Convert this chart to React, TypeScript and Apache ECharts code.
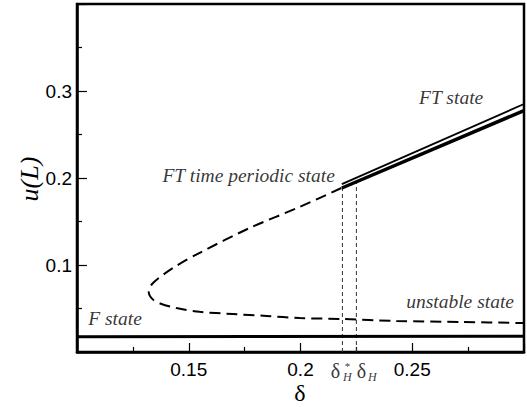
import React, { useEffect, useRef } from "react";
import * as echarts from "echarts";

// F state (stable, solid)
const fStateDelta = [0.1, 0.3];
const fStateU = [0.0175, 0.018];

// Time-periodic / unstable branch (dashed), traced through the fold
const foldDelta = [0.2183, 0.1996, 0.1772, 0.1549, 0.1429, 0.1339, 0.1321, 0.1339, 0.1375, 0.1445, 0.1549, 0.1696, 0.1848, 0.1996, 0.2183, 0.2429, 0.2723, 0.3];
const foldU = [0.1885, 0.1667, 0.1425, 0.114, 0.0965, 0.079, 0.069, 0.0605, 0.0555, 0.0505, 0.0462, 0.0437, 0.0414, 0.039, 0.038, 0.0356, 0.0345, 0.0333];

// FT state (double line)
const ftUpperDelta = [0.2185, 0.3];
const ftUpperU = [0.193, 0.285];
const ftLowerDelta = [0.2185, 0.3];
const ftLowerU = [0.1885, 0.2775];

// Critical points
const deltaHStar = 0.21875;
const deltaH = 0.225;
const deltaHStarTop = 0.188;
const deltaHTop = 0.1955;

// Axis ticks
const xTickLabels = ["0.15", "0.2", "0.25"];
const yTickLabels = ["0.1", "0.2", "0.3"];

// Annotations (anchor in data coords)
const annotations = [
  { text: "FT state", at: [0.2674, 0.292] },
  { text: "FT time periodic state", at: [0.1768, 0.2023] },
  { text: "unstable state", at: [0.2714, 0.0586] },
  { text: "F state", at: [0.117, 0.038] },
];

const zip = (a: number[], b: number[]) => a.map((v, i) => [v, b[i]]);

export default function App() {
  const ref = useRef<HTMLDivElement>(null);
  useEffect(() => {
    if (!ref.current) return;
    const chart = echarts.init(ref.current, null, { renderer: "svg" });
    const serif = "'Liberation Serif', 'DejaVu Serif', serif";
    const sans = "'Liberation Sans', Arial, sans-serif";
    const fmt = (v: number, list: string[]) => {
      const s = String(Math.round(v * 1000) / 1000);
      return list.includes(s) ? s : "";
    };
    chart.setOption({
      animation: false,
      backgroundColor: "#fff",
      grid: {
        left: 77,
        right: 3,
        top: 4,
        bottom: 55,
        show: true,
        borderColor: "#000",
        borderWidth: 2.5,
        containLabel: false,
        outerBoundsMode: "none",
      },
      xAxis: {
        type: "value",
        min: 0.1,
        max: 0.3,
        interval: 0.05,
        splitLine: { show: false },
        axisLine: { show: true, lineStyle: { color: "#000", width: 2.5 } },
        axisTick: { show: true, inside: true, length: 9, lineStyle: { color: "#000", width: 1.2 } },
        minorTick: { show: true, splitNumber: 2, length: 5, lineStyle: { color: "#000", width: 1.2 } },
        axisLabel: {
          show: true,
          margin: 8,
          color: "#000",
          fontSize: 19,
          fontFamily: sans,
          formatter: (v: number) => fmt(v, xTickLabels),
        },
      },
      yAxis: {
        type: "value",
        min: 0,
        max: 0.4,
        interval: 0.1,
        splitLine: { show: false },
        axisLine: { show: true, lineStyle: { color: "#000", width: 2.5 } },
        axisTick: { show: true, inside: true, length: 10, lineStyle: { color: "#000", width: 1.2 } },
        minorTick: { show: true, splitNumber: 2, length: 5, lineStyle: { color: "#000", width: 1.2 } },
        axisLabel: {
          show: true,
          margin: 5,
          color: "#000",
          fontSize: 19,
          fontFamily: sans,
          formatter: (v: number) => fmt(v, yTickLabels),
        },
      },
      graphic: [
        {
          type: "text",
          x: 29,
          y: 179,
          rotation: Math.PI / 2,
          style: {
            text: "u(L)",
            font: `italic 26px ${serif}`,
            fill: "#000",
            align: "center",
            verticalAlign: "middle",
          },
        },
        {
          type: "text",
          x: 300,
          y: 393,
          style: {
            text: "δ",
            font: `24px ${serif}`,
            fill: "#000",
            align: "center",
            verticalAlign: "middle",
          },
        },
      ],
      series: [
        {
          type: "line",
          data: zip(fStateDelta, fStateU),
          showSymbol: false,
          lineStyle: { color: "#000", width: 3 },
          z: 3,
        },
        {
          type: "line",
          data: zip(foldDelta, foldU),
          showSymbol: false,
          smooth: 0.3,
          lineStyle: { color: "#000", width: 2, type: [11, 6] },
          z: 3,
        },
        {
          type: "line",
          data: zip(ftUpperDelta, ftUpperU),
          showSymbol: false,
          lineStyle: { color: "#000", width: 1.8 },
          z: 4,
        },
        {
          type: "line",
          data: zip(ftLowerDelta, ftLowerU),
          showSymbol: false,
          lineStyle: { color: "#000", width: 3.5 },
          z: 4,
        },
        {
          type: "line",
          data: [[deltaHStar, 0], [deltaHStar, deltaHStarTop]],
          showSymbol: false,
          lineStyle: { color: "#333", width: 1, type: [4, 3] },
          z: 2,
        },
        {
          type: "line",
          data: [[deltaH, 0], [deltaH, deltaHTop]],
          showSymbol: false,
          lineStyle: { color: "#333", width: 1, type: [4, 3] },
          z: 2,
        },
        {
          type: "scatter",
          symbolSize: 0,
          silent: true,
          data: annotations.map((a) => ({ value: a.at, name: a.text })),
          label: {
            show: true,
            position: "inside",
            formatter: (p: any) => p.name,
            color: "#000",
            fontFamily: serif,
            fontStyle: "italic",
            fontSize: 19.5,
          },
          z: 5,
        },
        {
          type: "scatter",
          symbolSize: 0,
          silent: true,
          data: [
            { value: [deltaHStar, 0], name: "a" },
            { value: [deltaH, 0], name: "b" },
          ],
          label: {
            show: true,
            position: "bottom",
            distance: 9,
            formatter: "δ",
            fontFamily: serif,
            fontSize: 20,
            color: "#000",
          },
          labelLayout: (p: any) => (p.dataIndex === 1 ? { dx: 5 } : { dx: -7 }),
          z: 5,
        },
        {
          type: "scatter",
          symbolSize: 0,
          silent: true,
          data: [
            {
              value: [deltaHStar, 0],
              name: "a",
              label: { formatter: "{s|*}\n{h|H}", distance: 8 },
            },
            {
              value: [deltaH, 0],
              name: "b",
              label: { formatter: "{h|H}", distance: 19 },
            },
          ],
          label: {
            show: true,
            position: "bottom",
            rich: {
              s: { fontFamily: serif, fontSize: 11, lineHeight: 11, color: "#000", align: "center" },
              h: { fontFamily: serif, fontStyle: "italic", fontSize: 12, lineHeight: 12, color: "#000", align: "center" },
            },
          },
          labelLayout: (p: any) => (p.dataIndex === 1 ? { dx: 16 } : { dx: 5 }),
          z: 5,
        },
      ],
    });
    return () => chart.dispose();
  }, []);
  return <div ref={ref} style={{ position: "fixed", left: 0, top: 0, width: 527, height: 407 }} />;
}
